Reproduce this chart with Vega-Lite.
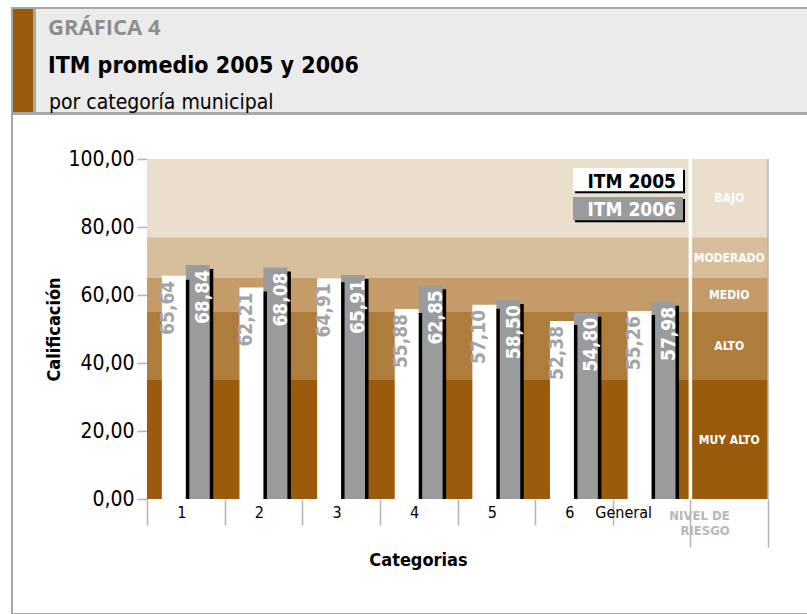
{
  "$schema": "https://vega.github.io/schema/vega-lite/v6.json",
  "background": "white",
  "padding": {"left": 11, "top": 7, "right": 0, "bottom": 0},
  "spacing": -2,
  "config": {
    "font": "DejaVu Sans Condensed",
    "view": {"stroke": null},
    "locale": {"number": {"decimal": ",", "thousands": ".", "grouping": [3], "currency": ["", " €"]}}
  },
  "datasets": {
    "itm": [
      {"categoria": "1", "serie": "ITM 2005", "valor": 65.64},
      {"categoria": "1", "serie": "ITM 2006", "valor": 68.84},
      {"categoria": "2", "serie": "ITM 2005", "valor": 62.21},
      {"categoria": "2", "serie": "ITM 2006", "valor": 68.08},
      {"categoria": "3", "serie": "ITM 2005", "valor": 64.91},
      {"categoria": "3", "serie": "ITM 2006", "valor": 65.91},
      {"categoria": "4", "serie": "ITM 2005", "valor": 55.88},
      {"categoria": "4", "serie": "ITM 2006", "valor": 62.85},
      {"categoria": "5", "serie": "ITM 2005", "valor": 57.10},
      {"categoria": "5", "serie": "ITM 2006", "valor": 58.50},
      {"categoria": "6", "serie": "ITM 2005", "valor": 52.38},
      {"categoria": "6", "serie": "ITM 2006", "valor": 54.80},
      {"categoria": "General", "serie": "ITM 2005", "valor": 55.26},
      {"categoria": "General", "serie": "ITM 2006", "valor": 57.98}
    ],
    "niveles": [
      {"nivel": "BAJO", "desde": 77, "hasta": 100},
      {"nivel": "MODERADO", "desde": 65, "hasta": 77},
      {"nivel": "MEDIO", "desde": 55, "hasta": 65},
      {"nivel": "ALTO", "desde": 35, "hasta": 55},
      {"nivel": "MUY ALTO", "desde": 0, "hasta": 35}
    ],
    "leyenda": [
      {"serie": "ITM 2005"},
      {"serie": "ITM 2006"}
    ],
    "marco": [{}]
  },
  "vconcat": [
    {
      "hconcat": [
        {
          "width": 22, "height": 105,
          "data": {"values": []},
          "mark": "point",
          "view": {"fill": "#9a5b0d", "stroke": "#a7a7a7", "strokeWidth": 2}
        },
        {
          "width": 778, "height": 105,
          "data": {"values": []},
          "mark": "point",
          "view": {"fill": "#ebebeb", "stroke": "#a7a7a7", "strokeWidth": 2},
          "title": {
            "text": "GRÁFICA 4",
            "subtitle": "ITM promedio 2005 y 2006",
            "anchor": "start", "orient": "top", "frame": "group",
            "offset": -71, "dx": 13,
            "font": "Open Sans", "fontSize": 22, "fontWeight": "bold", "color": "#8e8e8e",
            "subtitleFont": "DejaVu Sans Condensed", "subtitleFontSize": 23, "subtitleFontWeight": "bold",
            "subtitleColor": "black", "subtitlePadding": 15
          }
        }
      ],
      "spacing": -2,
      "title": {
        "text": "por categoría municipal",
        "anchor": "start", "orient": "bottom", "frame": "group",
        "offset": -22, "dx": 37,
        "font": "DejaVu Sans Condensed", "fontSize": 21, "fontWeight": "normal", "color": "black"
      }
    },
    {
      "width": 796, "height": 500,
      "view": {"fill": "white", "stroke": "#a7a7a7", "strokeWidth": 2},
      "resolve": {"scale": {"xOffset": "independent"}},
      "layer": [
        {
          "data": {"name": "niveles"},
          "mark": {"type": "rect"},
          "encoding": {
            "x": {"datum": "1", "bandPosition": 0, "type": "nominal",
                  "scale": {"domain": ["1","2","3","4","5","6","General","NIVEL DE RIESGO"], "range": [135, 756], "paddingInner": 0, "paddingOuter": 0}},
            "x2": {"datum": "NIVEL DE RIESGO", "bandPosition": 1},
            "y": {"field": "desde", "type": "quantitative", "scale": {"domain": [0, 100], "range": [385, 45], "nice": false}},
            "y2": {"field": "hasta"},
            "color": {"field": "nivel", "type": "nominal",
                      "scale": {"domain": ["BAJO","MODERADO","MEDIO","ALTO","MUY ALTO"], "range": ["#e9dfcc","#d7bf9c","#c49b69","#ae7d3c","#9a5b0d"]},
                      "legend": null}
          }
        },
        {
          "data": {"name": "marco"},
          "mark": {"type": "rule", "color": "white", "strokeWidth": 3.5},
          "encoding": {
            "x": {"datum": "NIVEL DE RIESGO", "bandPosition": 0, "type": "nominal"},
            "y": {"datum": 0, "type": "quantitative"},
            "y2": {"datum": 100}
          }
        },
        {
          "data": {"name": "marco"},
          "mark": {"type": "rule", "color": "#b3b3b3", "strokeWidth": 1.5},
          "encoding": {
            "x": {"datum": "NIVEL DE RIESGO", "bandPosition": 1, "type": "nominal"},
            "y": {"datum": 0, "type": "quantitative"},
            "y2": {"datum": 100}
          }
        },
        {
          "data": {"name": "itm"},
          "transform": [{"filter": "datum.serie == 'ITM 2006'"}],
          "mark": {"type": "bar", "color": "black", "yOffset": 4, "y2Offset": 0},
          "encoding": {
            "x": {"field": "categoria", "type": "nominal"},
            "xOffset": {"field": "serie", "type": "nominal", "scale": {"domain": ["ITM 2005","ITM 2006"], "paddingInner": 0, "paddingOuter": 0.62, "align": 0.618}},
            "y": {"field": "valor", "type": "quantitative"},
            "y2": {"datum": 0}
          }
        },
        {
          "data": {"name": "itm"},
          "transform": [{"filter": "datum.serie == 'ITM 2006'"}],
          "mark": {"type": "bar", "color": "#9a9b9d"},
          "encoding": {
            "x": {"field": "categoria", "type": "nominal"},
            "xOffset": {"field": "serie", "type": "nominal", "scale": {"domain": ["ITM 2005","ITM 2006"], "paddingInner": 0, "paddingOuter": 0.62}},
            "y": {"field": "valor", "type": "quantitative"}
          }
        },
        {
          "data": {"name": "itm"},
          "transform": [{"filter": "datum.serie == 'ITM 2005'"}],
          "mark": {"type": "bar", "color": "black", "yOffset": 4, "y2Offset": 0},
          "encoding": {
            "x": {"field": "categoria", "type": "nominal"},
            "xOffset": {"field": "serie", "type": "nominal", "scale": {"domain": ["ITM 2005","ITM 2006"], "paddingInner": 0, "paddingOuter": 0.62, "align": 0.618}},
            "y": {"field": "valor", "type": "quantitative"},
            "y2": {"datum": 0}
          }
        },
        {
          "data": {"name": "itm"},
          "transform": [{"filter": "datum.serie == 'ITM 2005'"}],
          "mark": {"type": "bar", "color": "white"},
          "encoding": {
            "x": {"field": "categoria", "type": "nominal",
                  "axis": {
                    "title": "Categorias", "titleFontSize": 18, "titleFontWeight": "bold", "titleColor": "black",
                    "titleX": 406, "titleY": 66, "titleBaseline": "alphabetic", "titleAlign": "center",
                    "domain": false, "tickBand": "extent",
                    "tickSize": {"condition": {"test": "datum.value == 'General' || datum.value == 'NIVEL DE RIESGO'", "value": 48}, "value": 26},
                    "tickColor": "#b3b3b3", "tickWidth": 1.5,
                    "labelAngle": 0, "labelFontSize": {"condition": {"test": "datum.value == 'NIVEL DE RIESGO'", "value": 13}, "value": 16},
                    "labelColor": {"condition": {"test": "datum.value == 'NIVEL DE RIESGO'", "value": "#b8b8b8"}, "value": "black"},
                    "labelFontWeight": {"condition": {"test": "datum.value == 'NIVEL DE RIESGO'", "value": "bold"}, "value": "normal"},
                    "labelExpr": "datum.value == 'NIVEL DE RIESGO' ? ['NIVEL DE', 'RIESGO'] : datum.label",
                    "labelPadding": {"condition": [
                      {"test": "datum.value == 'NIVEL DE RIESGO'", "value": -32},
                      {"test": "datum.value == 'General'", "value": -35}
                    ], "value": -13},
                    "labelLineHeight": 15, "offset": -115
                  }},
            "xOffset": {"field": "serie", "type": "nominal", "scale": {"domain": ["ITM 2005","ITM 2006"], "paddingInner": 0, "paddingOuter": 0.62}},
            "y": {"field": "valor", "type": "quantitative",
                  "axis": {
                    "title": "Calificación", "titleFontSize": 18, "titleFontWeight": "bold", "titleColor": "black",
                    "titleX": -93, "titleY": 215, "titleAngle": 270, "titleBaseline": "middle", "titleAlign": "center",
                    "domain": false, "grid": false, "values": [0, 20, 40, 60, 80, 100], "format": ".2f",
                    "tickSize": 10, "tickColor": "#b3b3b3", "tickWidth": 1.5,
                    "labelFontSize": 21, "labelColor": "black", "labelPadding": 3, "offset": -135
                  }}
          }
        },
        {
          "data": {"name": "itm"},
          "mark": {"type": "text", "angle": 270, "align": "right", "baseline": "middle", "dx": -5,
                   "fontWeight": "bold", "fontSize": 19},
          "encoding": {
            "x": {"field": "categoria", "type": "nominal"},
            "xOffset": {"field": "serie", "type": "nominal", "scale": {"domain": ["ITM 2005","ITM 2006"], "paddingInner": 0, "paddingOuter": 0.62}},
            "y": {"field": "valor", "type": "quantitative"},
            "text": {"field": "valor", "type": "quantitative", "format": ".2f"},
            "color": {"condition": {"test": "datum.serie == 'ITM 2005'", "value": "#a4a4a4"}, "value": "white"}
          }
        },
        {
          "data": {"name": "niveles"},
          "transform": [{"fold": ["desde", "hasta"]}],
          "mark": {"type": "text", "color": "white", "fontWeight": "bold", "fontSize": 12},
          "encoding": {
            "x": {"datum": "NIVEL DE RIESGO", "type": "nominal"},
            "y": {"aggregate": "mean", "field": "value", "type": "quantitative"},
            "text": {"field": "nivel", "type": "nominal"}
          }
        },
        {
          "data": {"name": "leyenda"},
          "transform": [{"filter": "datum.serie == 'ITM 2005'"}],
          "mark": {"type": "rect", "color": "black"},
          "encoding": {
            "x": {"datum": "6", "bandPosition": 0.514, "type": "nominal"},
            "x2": {"datum": "General", "bandPosition": 0.931},
            "y": {"datum": 96.76, "type": "quantitative"},
            "y2": {"datum": 89.9}
          }
        },
        {
          "data": {"name": "leyenda"},
          "transform": [{"filter": "datum.serie == 'ITM 2005'"}],
          "mark": {"type": "rect", "color": "white"},
          "encoding": {
            "x": {"datum": "6", "bandPosition": 0.488, "type": "nominal"},
            "x2": {"datum": "General", "bandPosition": 0.905},
            "y": {"datum": 97.35, "type": "quantitative"},
            "y2": {"datum": 90.5}
          }
        },
        {
          "data": {"name": "leyenda"},
          "transform": [{"filter": "datum.serie == 'ITM 2005'"}],
          "mark": {"type": "text", "color": "black", "fontWeight": "bold", "fontSize": 19, "align": "right", "baseline": "alphabetic"},
          "encoding": {
            "x": {"datum": "General", "bandPosition": 0.815, "type": "nominal"},
            "y": {"datum": 91.47, "type": "quantitative"},
            "text": {"field": "serie", "type": "nominal"}
          }
        },
        {
          "data": {"name": "leyenda"},
          "transform": [{"filter": "datum.serie == 'ITM 2006'"}],
          "mark": {"type": "rect", "color": "black"},
          "encoding": {
            "x": {"datum": "6", "bandPosition": 0.514, "type": "nominal"},
            "x2": {"datum": "General", "bandPosition": 0.931},
            "y": {"datum": 88.21, "type": "quantitative"},
            "y2": {"datum": 81.38}
          }
        },
        {
          "data": {"name": "leyenda"},
          "transform": [{"filter": "datum.serie == 'ITM 2006'"}],
          "mark": {"type": "rect", "color": "#9a9b9d"},
          "encoding": {
            "x": {"datum": "6", "bandPosition": 0.488, "type": "nominal"},
            "x2": {"datum": "General", "bandPosition": 0.905},
            "y": {"datum": 88.8, "type": "quantitative"},
            "y2": {"datum": 81.97}
          }
        },
        {
          "data": {"name": "leyenda"},
          "transform": [{"filter": "datum.serie == 'ITM 2006'"}],
          "mark": {"type": "text", "color": "white", "fontWeight": "bold", "fontSize": 19, "align": "right", "baseline": "alphabetic"},
          "encoding": {
            "x": {"datum": "General", "bandPosition": 0.815, "type": "nominal"},
            "y": {"datum": 83.15, "type": "quantitative"},
            "text": {"field": "serie", "type": "nominal"}
          }
        }
      ]
    }
  ]
}
